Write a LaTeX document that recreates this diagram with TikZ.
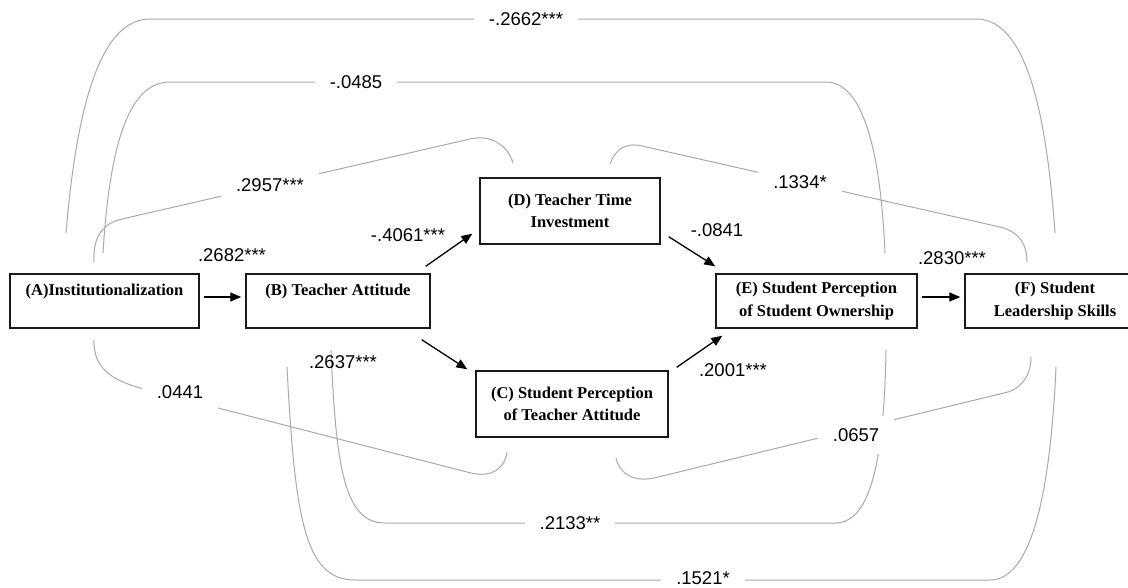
\documentclass[tikz,border=0pt]{standalone}
\usepackage{fontspec}
\setmainfont{Liberation Serif}
\newfontfamily\labfont{Liberation Sans}
\usetikzlibrary{arrows.meta}
\definecolor{curvegray}{HTML}{A9A9A9}
\definecolor{boxline}{HTML}{1A1A1A}
\begin{document}
\begin{tikzpicture}[x=1pt,y=-1pt,
  box/.style={draw=boxline, line width=1.4pt, rectangle, inner sep=0pt, align=center,
    font=\fontsize{16.5}{22.5}\selectfont\bfseries},
  arr/.style={draw=black, line width=1.3pt, -{Triangle[length=11pt,width=9pt]}},
  corr/.style={draw=curvegray, line width=1pt},
  coef/.style={font=\labfont\fontsize{18.5}{20}\selectfont, inner sep=0pt},
  gapcoef/.style={coef, fill=white, inner xsep=15pt, inner ysep=12pt}]
\useasboundingbox (0,0) rectangle (1128,587);
\clip (0,0) rectangle (1128,587);
\fill[white] (0,0) rectangle (1128,587);

% end points of the correlation curves
\coordinate (k1s) at (66,233);   \coordinate (k1e) at (1055,233);
\coordinate (k2s) at (103,253);  \coordinate (k2e) at (885,253);
\coordinate (k3s) at (94,262);   \coordinate (k3e) at (513,163);
\coordinate (k4s) at (610,164);  \coordinate (k4e) at (1027,262);
\coordinate (k5s) at (94,340);   \coordinate (k5e) at (507,452);
\coordinate (k6s) at (616,458);  \coordinate (k6e) at (1031,357);
\coordinate (k7s) at (331,350);  \coordinate (k7e) at (886,350);
\coordinate (k8s) at (287,367);  \coordinate (k8e) at (1056,367);

\draw[corr] (k1s) .. controls (78,90) and (105,19) .. (150,19) -- (976,19) .. controls (1020,19) and (1045,90) .. (k1e);
\draw[corr] (k2s) .. controls (110,140) and (130,82) .. (170,82) -- (826,82) .. controls (860,82) and (880,140) .. (k2e);
\draw[corr] (k3s) .. controls (93,240) and (100,224) .. (122,219) -- (470,139) .. controls (490,134) and (508,145) .. (k3e);
\draw[corr] (k4s) .. controls (615,150) and (625,142) .. (642,146) -- (1000,227) .. controls (1020,232) and (1027,245) .. (k4e);
\draw[corr] (k5s) .. controls (93,372) and (118,382) .. (144,389) -- (471,473) .. controls (492,478) and (505,468) .. (k5e);
\draw[corr] (k6s) .. controls (620,475) and (635,482) .. (654,478) -- (1008,392) .. controls (1025,386) and (1031,372) .. (k6e);
\draw[corr] (k7s) .. controls (336,470) and (345,523) .. (385,523) -- (835,523) .. controls (868,523) and (884,470) .. (k7e);
\draw[corr] (k8s) .. controls (295,520) and (305,580) .. (355,580) -- (990,580) .. controls (1030,580) and (1050,500) .. (k8e);

\node[gapcoef] (l1) at (526,19) {-.2662***};
\node[gapcoef] (l2) at (356,82) {-.0485};
\node[gapcoef] (l3) at (270,185) {.2957***};
\node[gapcoef] (l4) at (800,182) {.1334*};
\node[gapcoef] (l5) at (180,392) {.0441};
\node[gapcoef] (l6) at (856,435) {.0657};
\node[gapcoef] (l7) at (570,523) {.2133**};
\node[gapcoef] (l8) at (703,578) {.1521*};

% boxes
\node[box, minimum width=189, minimum height=54] (A) at (104.5,301) {(A)Institutionalization\\~};
\node[box, minimum width=184, minimum height=54] (B) at (338,301) {(B) Teacher Attitude\\~};
\node[box, minimum width=180, minimum height=66] (D) at (570,211) {(D) Teacher Time\\Investment};
\node[box, minimum width=192, minimum height=66] (C) at (572,404) {(C) Student Perception\\of Teacher Attitude};
\node[box, minimum width=201, minimum height=54] (E) at (816.5,301) {(E) Student Perception\\of Student Ownership};
\node[box, minimum width=180, minimum height=54] (F) at (1055,301) {(F) Student\\Leadership Skills};

% path arrows
\draw[arr] ([shift={(4,-4)}]A.east) -- ([shift={(-4,-4)}]B.west);
\draw[arr] ([shift={(-5,-7)}]B.north east) -- ([shift={(-7,-11)}]D.south west);
\draw[arr] ([shift={(-9,11)}]B.south east) -- ([shift={(-8,-1)}]C.north west);
\draw[arr] ([shift={(8,-8)}]D.south east) -- ([shift={(0,-7)}]E.north west);
\draw[arr] ([shift={(8,-3)}]C.north east) -- ([shift={(7,7)}]E.south west);
\draw[arr] ([shift={(4,-4)}]E.east) -- ([shift={(-4,-4)}]F.west);

\node[coef] (pab) at (232,255) {.2682***};
\node[coef] (pbd) at (408,235) {-.4061***};
\node[coef] (pbc) at (343,362) {.2637***};
\node[coef] (pde) at (717,230) {-.0841};
\node[coef] (pce) at (733,370) {.2001***};
\node[coef] (pef) at (952,258) {.2830***};
\end{tikzpicture}
\end{document}
